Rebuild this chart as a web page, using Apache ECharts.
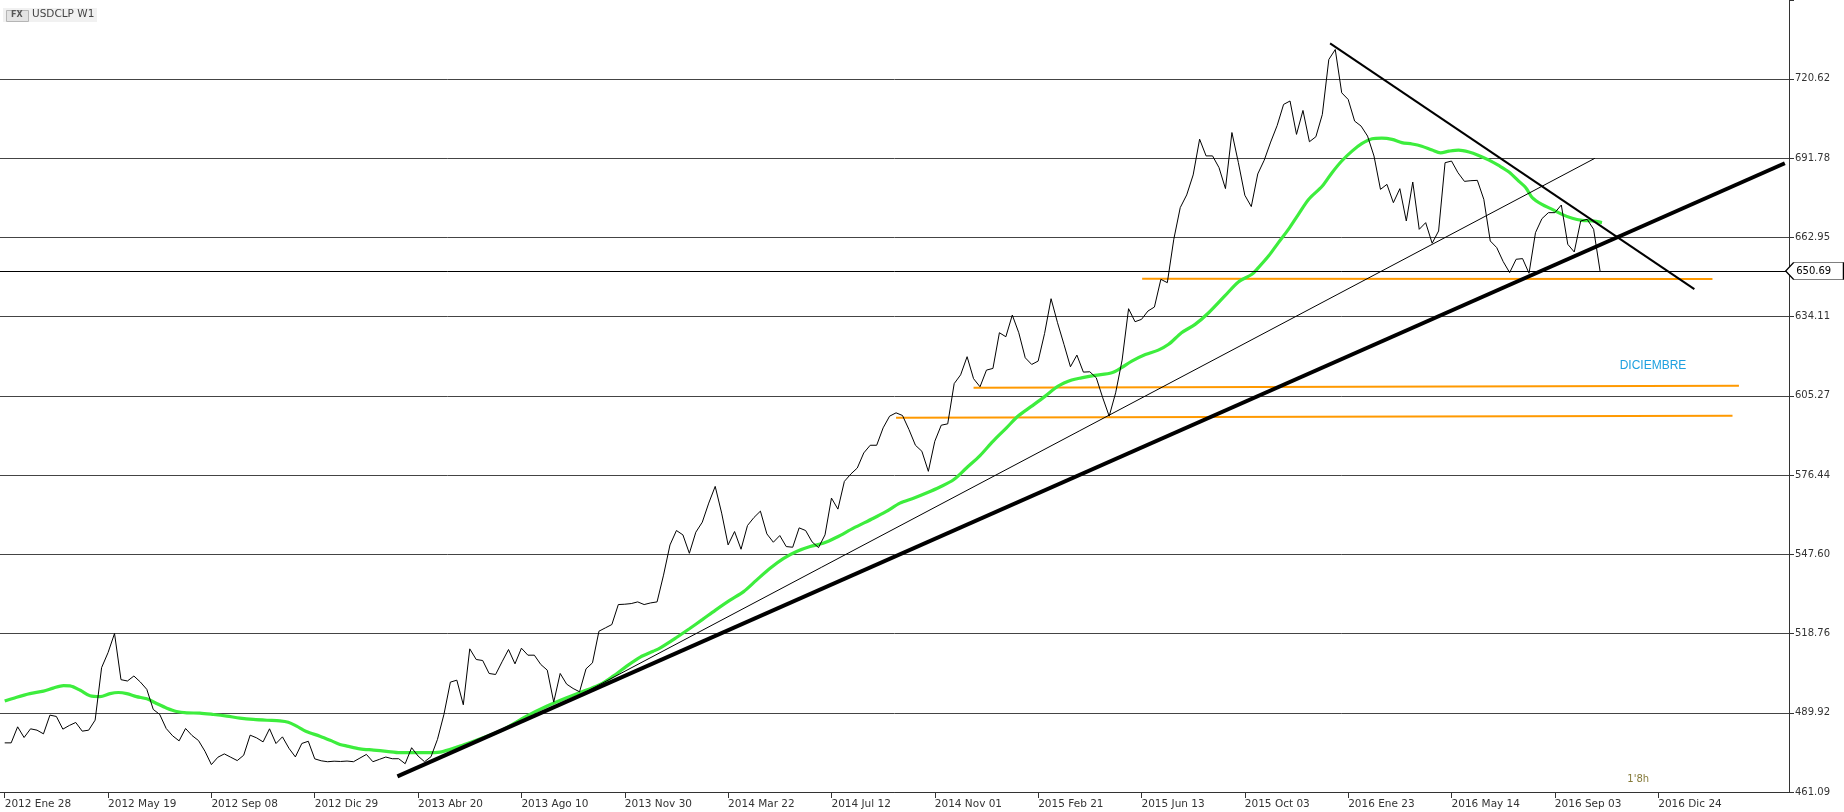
<!DOCTYPE html>
<html><head><meta charset="utf-8">
<script src="https://cdn.jsdelivr.net/npm/echarts@6/dist/echarts.min.js"></script>
<style>html,body{margin:0;padding:0;background:#fff}#c{width:1844px;height:812px}</style>
</head><body><div id="c"></div>
<script>
// ---- tick labels ----
const xTickWeeks = [0,16,32,48,64,80,96,112,128,144,160,176,192,208,224,240,256];
const xTickLabels = ['2012 Ene 28','2012 May 19','2012 Sep 08','2012 Dic 29','2013 Abr 20','2013 Ago 10','2013 Nov 30','2014 Mar 22','2014 Jul 12','2014 Nov 01','2015 Feb 21','2015 Jun 13','2015 Oct 03','2016 Ene 23','2016 May 14','2016 Sep 03','2016 Dic 24'];
const yTickLabels = ['461.09','489.92','518.76','547.60','576.44','605.27','634.11','662.95','691.78','720.62'];
const yMin = 461.09, yStep = 28.83667, yMax = 749.3;

// ---- weekly close USDCLP (week 0 = 2012 Ene 28) ----
const closeValues = [
478.97,478.97,484.81,480.92,484.08,483.59,482.25,489.07,488.58,483.96,
485.30,486.39,483.23,483.59,487.24,506.35,511.82,518.76,501.97,501.48,
503.30,501.11,498.44,491.14,489.31,484.20,481.52,479.70,484.20,481.65,
479.82,475.93,471.06,473.74,474.95,473.74,472.52,474.47,481.77,480.79,
479.33,484.08,478.73,481.16,477.02,473.86,478.75,479.55,473.15,472.45,
472.10,472.30,472.20,472.35,472.11,473.44,474.77,472.11,472.96,473.81,
473.20,473.20,471.38,477.20,474.17,472.11,473.93,480.23,489.31,501.07,
501.79,492.83,513.18,509.31,508.94,504.22,503.85,508.46,512.94,507.73,
513.42,510.88,510.88,507.49,505.43,493.80,504.22,500.34,498.76,497.55,
505.91,508.09,519.60,520.82,522.03,529.30,529.42,529.66,530.27,529.30,
529.90,530.27,540.00,551.00,556.24,554.66,547.96,555.63,559.28,566.22,
572.30,562.57,551.01,555.87,549.43,558.06,560.98,563.30,555.02,551.98,
554.41,550.40,550.16,557.21,556.24,552.10,550.03,554.66,568.04,564.03,
574.13,576.80,578.99,584.47,587.27,587.27,593.60,597.85,599.07,598.10,
592.99,587.27,585.08,577.78,588.73,594.57,595.06,609.70,612.90,619.50,
611.50,608.55,614.62,615.23,628.22,626.76,634.65,628.22,619.11,616.68,
617.90,627.98,640.60,631.86,623.97,615.83,620.08,613.89,614.01,611.83,
604.54,597.86,606.36,618.26,636.96,632.23,633.08,636.11,637.57,647.65,
646.43,662.22,673.75,678.37,685.65,698.64,692.57,692.57,688.32,680.67,
701.07,690.14,678.25,674.12,686.00,691.00,697.60,703.60,711.30,712.55,
700.40,709.11,697.72,699.54,707.66,727.64,731.28,715.53,713.11,705.23,
703.41,699.78,692.51,680.39,682.21,675.55,680.64,668.88,683.06,665.85,
668.28,660.77,665.25,690.09,690.69,686.45,683.30,683.55,683.67,676.76,
661.61,659.19,654.10,650.10,654.95,655.19,649.86,664.64,669.73,671.91,
671.91,674.70,660.40,657.61,668.88,669.49,665.85,650.69
];
const lastPrice = 650.69;

// ---- green moving average, read at [week, value] ----
const maWeeks = [0,1.85,3.9,6,7.5,9.1,10.1,11.7,13.2,14.75,16.3,17.6,18.9,20.4,22,23.5,25.1,26.6,28.2,30.2,32.3,34.4,36.4,38.5,40.6,42.6,43.9,45.2,46.7,48.8,50.4,51.9,53,55,57.1,59.1,61.2,63.3,65.3,67.4,69,70.5,76.7,80.8,83.9,87,90.1,92.2,94.2,96.3,98.4,100.4,101.5,104,106,108,110,112.3,114.4,116.4,118.5,120.6,122.6,124.7,126.7,128.8,131.4,134.5,136.5,138.6,140.7,142.7,144.8,146.9,148.9,151,153,155.1,156.9,159,161.1,163.1,165.2,166.7,168.8,171.4,172.9,174.5,176.6,178.6,180.2,182.2,184.3,186.4,188.9,191,193.1,194.1,195.7,197.2,198.8,200.3,201.9,204,205.5,207,208.6,210.1,211.7,213.2,214.8,216.3,217.9,219.4,221,222.3,223.6,225.1,226.7,228.2,229.8,231.3,232.9,234.4,235.5,236.5,238,239.6,241.1,242.7,244.2,245.8,247.3];
const maValues = [494.2,495.6,496.9,497.8,498.9,499.8,499.7,498.1,496.1,495.8,496.9,497.3,496.9,495.8,495.0,493.3,491.6,490.4,489.9,489.8,489.3,488.7,488.0,487.5,487.2,487.0,486.5,485.05,483.1,481.4,479.9,478.4,477.8,476.8,476.35,475.9,475.4,475.4,475.4,475.6,476.6,477.8,483.3,488.7,492.3,495.4,498.2,500.2,503.25,506.9,510.2,512.3,513.55,517.3,520.5,523.8,527.2,530.9,534.0,538.2,542.5,546.1,548.6,550.4,551.6,553.8,557.1,560.7,563.2,566.2,568.0,569.9,572.1,574.7,579.0,583.5,588.7,593.6,597.9,601.5,605.15,608.8,611.0,611.8,612.7,613.65,615.5,617.9,620.3,621.9,624.0,628.2,631.25,635.5,641.6,646.7,649.5,651.9,656.2,661.0,666.0,671.3,676.8,681.6,686.45,690.7,694.3,697.0,698.8,699.05,698.6,697.4,696.9,696.1,694.7,693.7,694.3,694.7,694.0,692.75,691.05,689.1,686.7,683.4,681.0,677.4,674.9,673.1,671.3,669.85,669.1,668.9,668.3];

// ---- drawn lines (endpoints [week, value]) ----
const trendThick = [[60.8,466.8],[275.6,689.9]];
const trendThin = [[86.5,493.2],[246.2,691.7]];
const trendDown = [[205.2,733.5],[261.6,644.1]];
const orangeTop = [[176.1,647.85],[264.4,647.75]];
const orangeMid = [[150.0,608.2],[268.5,608.9]];
const orangeLow = [[138.0,597.3],[267.5,598.0]];
const noteDic = {text:'DICIEMBRE', at:[255.2,616.2]};
const note18h = {text:"1'8h", at:[252.9,465.5]};

const chart = echarts.init(document.getElementById('c'), null, {renderer:'canvas'});
const font = 'DejaVu Sans';
function seg(data, color, width, z){
  return {type:'line', data:data, symbol:'none', silent:true, z:z||4,
    lineStyle:{color:color, width:width}, animation:false};
}
chart.setOption({
  animation:false,
  backgroundColor:'#ffffff',
  grid:{left:0, right:55, top:0, bottom:20},
  xAxis:{type:'value', min:-0.73, max:276.25,
    axisLine:{show:true, onZero:false, lineStyle:{color:'#333', width:1}},
    axisTick:{show:true, inside:false, length:6, customValues:xTickWeeks, lineStyle:{color:'#333'}},
    axisLabel:{show:true, customValues:xTickWeeks, align:'left', margin:7,
      fontFamily:font, fontSize:10.5, color:'#333',
      formatter:v=>{const k=Math.round(v/16); return xTickLabels[k]||'';}},
    splitLine:{show:false}},
  yAxis:{type:'value', position:'right', min:yMin, max:yMax, interval:yStep, scale:true,
    axisLine:{show:true, onZero:false, lineStyle:{color:'#333', width:1}},
    axisTick:{show:true, inside:false, length:5, lineStyle:{color:'#333'}},
    axisLabel:{show:true, margin:6, fontFamily:font, fontSize:10, color:'#333',
      formatter:v=>{const k=Math.round((v-yMin)/yStep);
        if(k<0||k>=yTickLabels.length||Math.abs(v-(yMin+k*yStep))>0.01) return '';
        return yTickLabels[k];}},
    splitLine:{show:true, showMaxLine:false, lineStyle:{color:'#444', width:1}}},
  graphic:[
    {type:'rect', left:3, top:8, shape:{width:94, height:14}, style:{fill:'#f1f1f1'}, z:100},
    {type:'rect', left:6, top:10, shape:{width:22, height:11}, style:{fill:'#e3e3e3', stroke:'#b5b5b5', lineWidth:1}, z:101},
    {type:'text', left:11, top:11, style:{text:'FX', fill:'#555', font:'bold 8px "DejaVu Sans"'}, z:102},
    {type:'text', left:32, top:9, style:{text:'USDCLP W1', fill:'#444', font:'10.5px "DejaVu Sans"'}, z:102}
  ],
  series:[
    seg(orangeLow,'#ff9900',2,3),
    seg(orangeMid,'#ff9900',2,3),
    seg(orangeTop,'#ff9900',2,3),
    {type:'line', data:maWeeks.map((w,i)=>[w,maValues[i]]), symbol:'none', smooth:0.3, z:4,
      lineStyle:{color:'#3ded3d', width:3.2}},
    seg(trendThin,'#000',1,5),
    seg(trendThick,'#000',4,6),
    seg(trendDown,'#000',2,6),
    {type:'line', data:closeValues.map((v,i)=>[i,v]), symbol:'none', z:7,
      lineStyle:{color:'#000', width:1},
      markLine:{silent:true, symbol:'none', animation:false, label:{show:false},
        lineStyle:{color:'#000', width:1, type:'solid'},
        data:[{yAxis:lastPrice}]},
      markPoint:{silent:true, animation:false, data:[
        {coord:[276.2,lastPrice], symbol:'path://M0,8.5L8,0L58,0L58,17L8,17Z', symbolSize:[58,17],
          symbolKeepAspect:false, symbolOffset:[26,0],
          itemStyle:{color:'#fff', borderColor:'#000', borderWidth:1},
          label:{show:true, position:'inside', formatter:String(lastPrice.toFixed(2)), offset:[-1,0],
            color:'#000', fontFamily:font, fontSize:10}},
        {coord:noteDic.at, symbol:'circle', symbolSize:1, itemStyle:{color:'rgba(0,0,0,0)'},
          label:{show:true, position:'inside', formatter:noteDic.text, color:'#1ea0e0', fontFamily:'Liberation Sans', fontSize:12}},
        {coord:note18h.at, symbol:'circle', symbolSize:1, itemStyle:{color:'rgba(0,0,0,0)'},
          label:{show:true, position:'inside', formatter:note18h.text, color:'#857a3a', fontFamily:font, fontSize:10}}
      ]}}
  ]
});
</script></body></html>
